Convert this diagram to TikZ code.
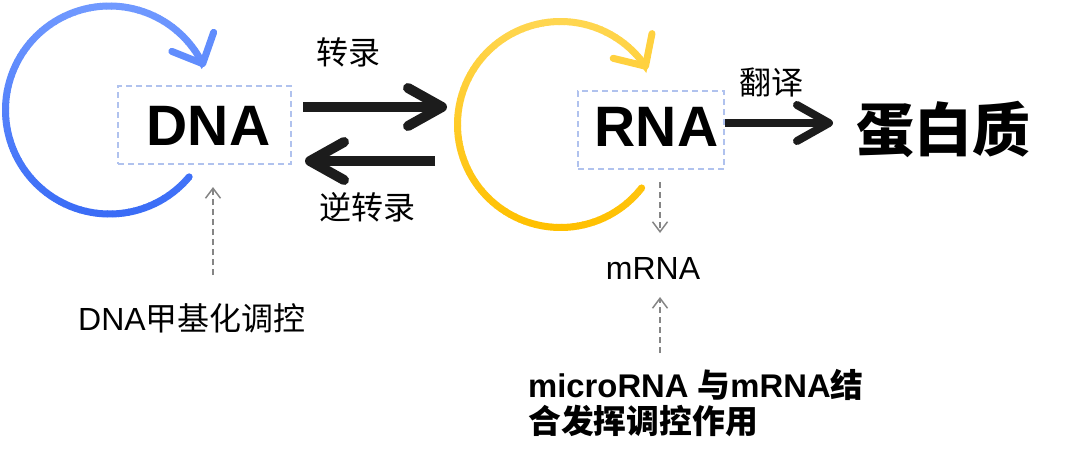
\documentclass[tikz,border=0pt]{standalone}
\usepackage{fontspec}
\setmainfont{Liberation Sans}
\newfontfamily\cjk{Noto Sans CJK SC}
\usetikzlibrary{arrows.meta}
\definecolor{blueTop}{HTML}{7099FF}
\definecolor{blueBot}{HTML}{3A6CF6}
\definecolor{yelTop}{HTML}{FFD650}
\definecolor{yelBot}{HTML}{FFC000}
\definecolor{boxc}{HTML}{B0C2EE}
\definecolor{grayc}{HTML}{858585}
\definecolor{ink}{HTML}{1C1C1C}
\begin{document}
\begin{tikzpicture}[x=1pt,y=-1pt,
  dbox/.style={draw=boxc, dash pattern=on 6pt off 4pt, line width=1.2pt, inner sep=0pt},
  bigtxt/.style={inner sep=0pt, font=\fontsize{57}{60}\selectfont\bfseries},
  lbl/.style={inner sep=0pt, font=\fontsize{32}{36}\selectfont},
  boldlbl/.style={inner sep=0pt, anchor=base west, font=\fontsize{32.8}{36}\selectfont\bfseries},
  bigarrow/.style={line width=10pt, draw=ink, -{Straight Barb[length=34pt,width=38pt,round]}},
  midarrow/.style={line width=8pt, draw=ink, -{Straight Barb[length=32pt,width=36pt,round]}},
  garrow/.style={line width=1.5pt, draw=grayc, dash pattern=on 6pt off 4pt, -{Straight Barb[length=10pt,width=15pt]}},
  ringseg/.style={line width=7pt},
  ringtip/.style={-{Straight Barb[length=24pt,width=46pt,round]}}
]
\useasboundingbox (0,0) rectangle (1080,450);

% blue cycle
\foreach \a in {40,43,...,328} {
  \pgfmathsetmacro\t{50-50*sin(\a+1.5)}
  \draw[ringseg, color=blueTop!\t!blueBot, line cap=butt] ({109.5+104*cos(\a)},{110+104*sin(\a)}) arc[start angle=\a, end angle=\a+3.4, radius=104];
}
\fill[blueBot!90!blueTop] ({109.5+104*cos(40)},{110+104*sin(40)}) circle[radius=3.5];
\pgfmathsetmacro\t{50-50*sin(333)}
\draw[ringseg, ringtip, color=blueTop!\t!blueBot] ({109.5+104*cos(331)},{110+104*sin(331)}) arc[start angle=331, end angle=335.5, radius=104];

% yellow cycle
\foreach \a in {38,41,...,320} {
  \pgfmathsetmacro\t{50-50*sin(\a+1.5)}
  \draw[ringseg, color=yelTop!\t!yelBot, line cap=butt] ({560.5+103*cos(\a)},{124.5+103*sin(\a)}) arc[start angle=\a, end angle=\a+3.4, radius=103];
}
\fill[yelBot!90!yelTop] ({560.5+103*cos(38)},{124.5+103*sin(38)}) circle[radius=3.5];
\pgfmathsetmacro\t{50-50*sin(325)}
\draw[ringseg, ringtip, color=yelTop!\t!yelBot] ({560.5+103*cos(323)},{124.5+103*sin(323)}) arc[start angle=323, end angle=327.5, radius=103];

% boxes and main texts
\node[dbox, minimum width=173pt, minimum height=78pt] (dnabox) at (204.5,125) {};
\node[bigtxt] (dna) at (208.5,126) {DNA};
\node[dbox, minimum width=146pt, minimum height=78pt] (rnabox) at (651,130) {};
\node[bigtxt] (rna) at (656.5,127) {RNA};
\node[inner sep=0pt, font=\fontsize{58}{60}\selectfont\cjk\bfseries] (prot) at (943,129) {蛋白质};

% labels
\node[lbl] (zl) at (348,52) {\cjk 转录};
\node[lbl] (nzl) at (367,207) {\cjk 逆转录};
\node[lbl] (fy) at (771,82) {\cjk 翻译};
\node[lbl] (meth) at (192,318) {DNA{\cjk 甲基化调控}};
\node[lbl] (mrna) at (653,268) {mRNA};
\node[boldlbl] (mir1) at (528,397) {microRNA {\cjk 与}mRNA{\cjk 结}};
\node[boldlbl] (mir2) at (528,433) {\cjk 合发挥调控作用};

% big arrows
\coordinate (a1s) at (303,107); \coordinate (a1e) at (447,107);
\coordinate (a2s) at (435,161); \coordinate (a2e) at (305,161);
\coordinate (a3s) at (725,123); \coordinate (a3e) at (833,123);
\draw[bigarrow] (a1s) -- (a1e);
\draw[bigarrow] (a2s) -- (a2e);
\draw[midarrow] (a3s) -- (a3e);

% dashed gray arrows
\coordinate (g1s) at (213,275); \coordinate (g1e) at (213,187);
\coordinate (g2s) at (660,182); \coordinate (g2e) at (660,233);
\coordinate (g3s) at (660,353); \coordinate (g3e) at (660,297);
\draw[garrow] (g1s) -- (g1e);
\draw[garrow] (g2s) -- (g2e);
\draw[garrow] (g3s) -- (g3e);
\end{tikzpicture}
\end{document}
